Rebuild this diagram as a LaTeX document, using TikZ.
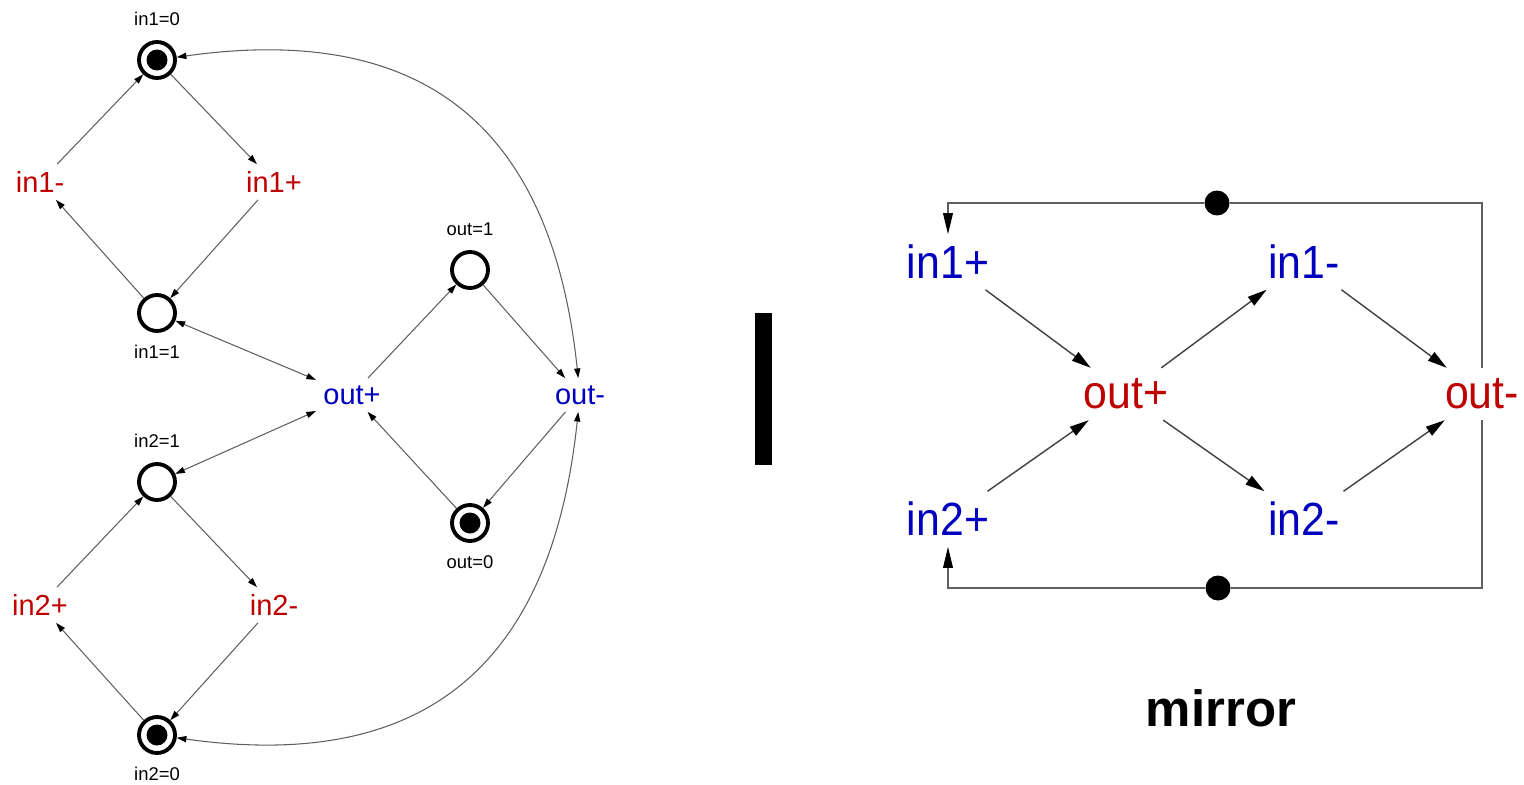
\documentclass[tikz,border=0pt]{standalone}
\usepackage{fontspec}
\setmainfont{Liberation Sans}
\newfontfamily\narrowsans[FakeStretch=0.92]{Liberation Sans}
\usepackage{xcolor}
\usepackage{tikz}
\definecolor{sigred}{RGB}{190, 0, 0}
\definecolor{sigblue}{RGB}{0, 0, 190}
\definecolor{arcgray}{RGB}{95, 95, 95}
\usetikzlibrary{arrows.meta, positioning}

\begin{document}
\begin{tikzpicture}[
    x=0.02cm, y=0.02cm,
    place/.style={circle, draw, line width=2.2pt, minimum size=0.72cm, inner sep=0pt},
    marked/.style={place, path picture={\fill (path picture bounding box.center) circle (0.21cm);}},
    stateLabel/.style={font=\fontsize{10.5}{12}\selectfont, inner sep=0pt},
    trans/.style={font=\fontsize{16.5}{19}\selectfont, inner sep=4pt},
    intrans/.style={trans, text=sigred},
    outtrans/.style={trans, text=sigblue},
    signal/.style={font=\narrowsans\fontsize{26.5}{30}\selectfont, inner sep=6pt},
    insignal/.style={signal, text=sigblue},
    outsignal/.style={signal, text=sigred},
    token/.style={circle, fill=black, inner sep=0pt, minimum size=0.5cm},
    arc/.style={-{Triangle[length=5.5pt, width=3.5pt, color=black]}, draw=arcgray, line width=0.6pt},
    readarc/.style={arc, {Triangle[length=5.5pt, width=3.5pt, color=black]}-{Triangle[length=5.5pt, width=3.5pt, color=black]}},
    edge/.style={-{Triangle[length=11pt, width=6pt, color=black]}, draw=black!75, line width=0.8pt},
    loopline/.style={-{Triangle[length=12pt, width=5.5pt, color=black]}, draw=arcgray, line width=0.9pt}
]
    \useasboundingbox (0,0) rectangle (1524,-784);

    % Petri net: places
    \node[marked] (pin10) at (157,-60) {};
    \node[place] (pin11) at (157,-313) {};
    \node[place] (pin21) at (157,-482) {};
    \node[marked] (pin20) at (157,-735) {};
    \node[place] (pout1) at (470,-270) {};
    \node[marked] (pout0) at (470,-523) {};

    % Petri net: place labels
    \node[stateLabel, above=8pt of pin10] (lin10) {in1=0};
    \node[stateLabel, below=7pt of pin11] (lin11) {in1=1};
    \node[stateLabel, above=8pt of pin21] (lin21) {in2=1};
    \node[stateLabel, below=7pt of pin20] (lin20) {in2=0};
    \node[stateLabel, above=8pt of pout1] (lout1) {out=1};
    \node[stateLabel, below=7pt of pout0] (lout0) {out=0};

    % Petri net: transitions
    \node[intrans] (in1m) at (40,-182) {in1-};
    \node[intrans] (in1p) at (274,-182) {in1+};
    \node[intrans] (in2p) at (40,-605) {in2+};
    \node[intrans] (in2m) at (274,-605) {in2-};
    \node[outtrans] (outp) at (352,-395) {out+};
    \node[outtrans] (outm) at (580,-395) {out-};

    % Petri net: arcs
    \draw[arc] (in1m) -- (pin10);
    \draw[arc] (pin10) -- (in1p);
    \draw[arc] (in1p) -- (pin11);
    \draw[arc] (pin11) -- (in1m);
    \draw[arc] (in2p) -- (pin21);
    \draw[arc] (pin21) -- (in2m);
    \draw[arc] (in2m) -- (pin20);
    \draw[arc] (pin20) -- (in2p);
    \draw[arc] (outp) -- (pout1);
    \draw[arc] (pout1) -- (outm);
    \draw[arc] (outm) -- (pout0);
    \draw[arc] (pout0) -- (outp);

    % Read arcs
    \draw[readarc] (pin11) -- (outp);
    \draw[readarc] (pin21) -- (outp);
    \draw[readarc] (pin10) to[out=8, in=96, looseness=1.25] (outm);
    \draw[readarc] (outm) to[out=-96, in=-8, looseness=1.25] (pin20);

    % Separator
    \fill (755,-313) rectangle (772,-465);

    % STG: signal transitions
    \node[insignal] (sin1p) at (948,-262) {in1+};
    \node[insignal] (sin1m) at (1304,-262) {in1-};
    \node[insignal] (sin2p) at (948,-519) {in2+};
    \node[insignal] (sin2m) at (1304,-519) {in2-};
    \node[outsignal] (soutp) at (1126,-394) {out+};
    \node[outsignal] (soutm) at (1482,-394) {out-};

    % STG: tokens
    \node[token] (tok1) at (1217,-203) {};
    \node[token] (tok2) at (1218,-588) {};

    % STG: edges
    \draw[edge] (sin1p) -- (soutp);
    \draw[edge] (sin2p) -- (soutp);
    \draw[edge] (soutp) -- (sin1m);
    \draw[edge] (soutp) -- (sin2m);
    \draw[edge] (sin1m) -- (soutm);
    \draw[edge] (sin2m) -- (soutm);
    \draw[loopline] (soutm) |- (tok1) -| (sin1p);
    \draw[loopline] (soutm) |- (tok2) -| (sin2p);

    % Caption
    \node[font=\bfseries\fontsize{29}{34}\selectfont] (mirror) at (1221,-708) {mirror};
\end{tikzpicture}
\end{document}
